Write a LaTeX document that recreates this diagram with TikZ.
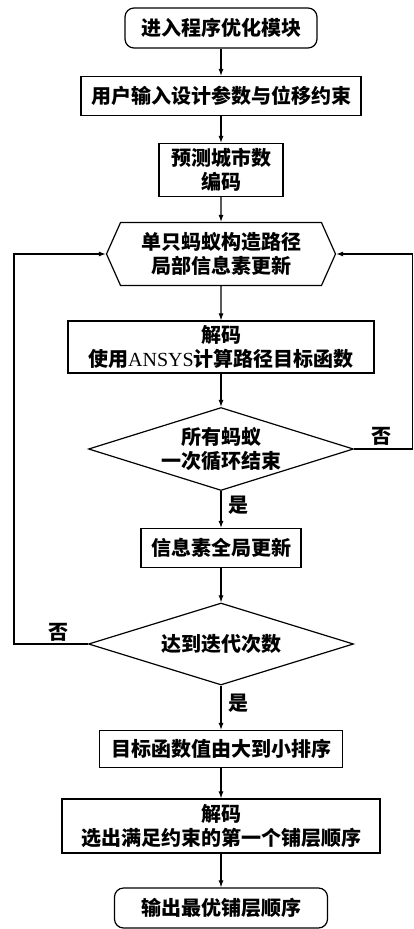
\documentclass[tikz,border=0pt]{standalone}
\usepackage{fontspec}
\setmainfont{Liberation Serif}
\newfontfamily\cjk{Noto Sans CJK SC}
\usetikzlibrary{shapes.geometric,shapes.symbols,arrows.meta}

\tikzset{
  box/.style={draw,line width=1.2pt,inner sep=0pt,align=center,
      font=\cjk\bfseries\fontsize{20}{24}\selectfont},
  term/.style={box,rounded corners=9pt},
  test/.style={box,diamond,shape aspect=3.2},
  hexa/.style={box,signal,signal to=east and west,signal pointer angle=132},
  flow/.style={line width=1.1pt,-{Latex[length=7pt,width=5pt]}},
  tag/.style={font=\cjk\bfseries\fontsize{20}{24}\selectfont}
}

\begin{document}
\begin{tikzpicture}[x=1pt,y=-1pt]
  \useasboundingbox (0,0) rectangle (414,929);

  \node[term,minimum width=192pt,minimum height=40pt] (start) at (221,28) {进入程序优化模块};
  \node[box,minimum width=280pt,minimum height=39pt] (input) at (221,96) {用户输入设计参数与位移约束};
  \node[box,minimum width=124pt,minimum height=53pt] (code) at (221,170) {预测城市数\\编码};
  \node[hexa,minimum width=229pt,minimum height=63pt] (ant) at (221,254) {单只蚂蚁构造路径\\局部信息素更新};
  \node[box,minimum width=306pt,minimum height=52pt] (calc) at (221,347) {解码\\使用{\rmfamily\mdseries ANSYS}计算路径目标函数};
  \node[test,minimum width=265pt,minimum height=83pt] (loop) at (221,449) {所有蚂蚁\\一次循环结束};
  \node[box,minimum width=160pt,minimum height=39pt] (glob) at (221,548) {信息素全局更新};
  \node[test,minimum width=265pt,minimum height=82pt] (iter) at (221,644) {达到迭代次数};
  \node[box,minimum width=243pt,minimum height=37pt] (sort) at (221,749) {目标函数值由大到小排序};
  \node[box,minimum width=318pt,minimum height=54pt] (pick) at (221,826) {解码\\选出满足约束的第一个铺层顺序};
  \node[term,minimum width=213pt,minimum height=40pt] (out) at (221,908) {输出最优铺层顺序};

  \foreach \a/\b in {start/input,input/code,code/ant,ant/calc,calc/loop,
                     loop/glob,glob/iter,iter/sort,sort/pick,pick/out}
  { \draw[flow] (\a) -- (\b); }

  % loops back to the ant step
  \coordinate (lt) at (14,644);
  \coordinate (lb) at (14,254);
  \coordinate (rt) at (412.5,449);
  \coordinate (rb) at (412.5,254);
  \draw[flow] (iter.west) -- (lt) -- (lb) -- (ant.west);
  \draw[flow] (loop.east) -- (rt) -- (rb) -- (ant.east);

  \node[tag] (no1) at (381,436) {否};
  \node[tag] (no2) at (58,632) {否};
  \node[tag] (yes1) at (238,505) {是};
  \node[tag] (yes2) at (238,703) {是};
\end{tikzpicture}
\end{document}
